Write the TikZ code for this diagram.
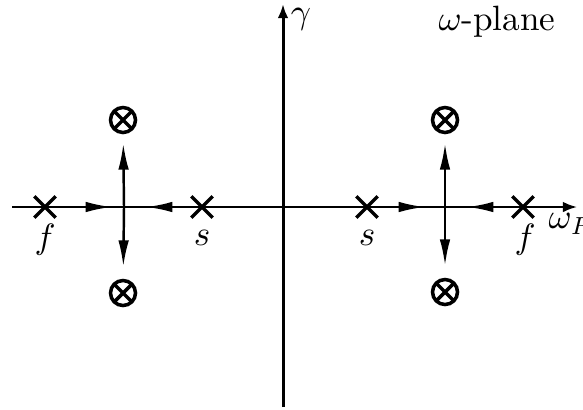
\documentclass[tikz,border=0pt]{standalone}
\usetikzlibrary{arrows.meta, shapes.misc}
\begin{document}
\begin{tikzpicture}[
        x=0.01cm, y=-0.01cm,
        ax/.style={-{Latex[length=4pt,width=3pt]}},
        xpt/.style={cross out, draw, line width=0.95pt, minimum size=0.18cm, inner sep=0pt},
        opt/.style={circle, draw, line width=1pt, minimum size=0.25cm, inner sep=0pt,
            path picture={\draw[line width=1pt] (path picture bounding box.north west) -- (path picture bounding box.south east)
                (path picture bounding box.north east) -- (path picture bounding box.south west);}},
        mv/.style={line width=0.7pt, -{Latex[length=7.5pt,width=3pt]}}
    ]
        \useasboundingbox (0,0) rectangle (583,409);
        % axes
        \coordinate (xl) at (12,207);
        \coordinate (xr) at (577,207);
        \coordinate (yb) at (283,407);
        \coordinate (yt) at (283,4);
        \draw[ax, line width=0.6pt] (xl) -- (xr);
        \draw[ax, line width=0.85pt] (yb) -- (yt);
        % left group
        \coordinate (cL) at (124,207);
        \node[xpt] (fL) at (45,207) {};
        \node[xpt] (sL) at (202,207) {};
        \node[opt] (uL) at (123,120) {};
        \node[opt] (dL) at (123,293) {};
        % right group
        \coordinate (cR) at (445,207);
        \node[xpt] (sR) at (367,207) {};
        \node[xpt] (fR) at (523,207) {};
        \node[opt] (uR) at (445,120) {};
        \node[opt] (dR) at (445,292) {};
        % flows
        \draw[mv, shorten >=0.12cm] (fL) -- (cL);
        \draw[mv, shorten >=0.22cm] (sL) -- (cL);
        \draw[mv, shorten >=0.2cm] (sR) -- (cR);
        \draw[mv, shorten >=0.22cm] (fR) -- (cR);
        \draw[mv, shorten >=0.09cm] (cL) -- (uL);
        \draw[mv, shorten >=0.12cm] (cL) -- (dL);
        \draw[mv, shorten >=0.09cm] (cR) -- (uR);
        \draw[mv, shorten >=0.12cm] (cR) -- (dR);
        % labels
        \node (lfL) at (45,240) {$f$};
        \node (lsL) at (202,238) {$s$};
        \node (lsR) at (367,238) {$s$};
        \node (lfR) at (525,240) {$f$};
        \node[anchor=west, inner sep=0pt] (lwR) at (548,224) {$\omega_R$};
        \node (lg) at (301,19) {$\gamma$};
        \node (lpl) at (497,22) {$\omega$-plane};
    \end{tikzpicture}
\end{document}
